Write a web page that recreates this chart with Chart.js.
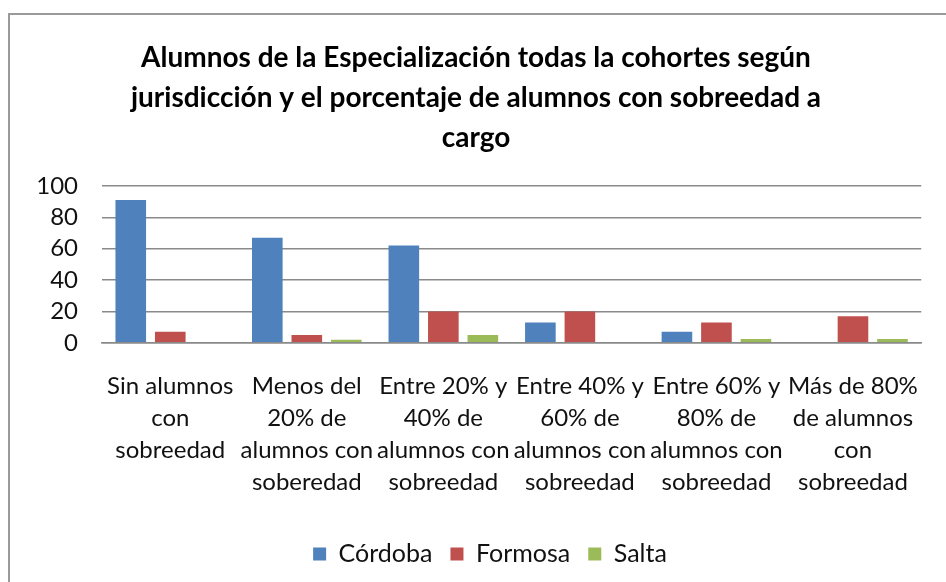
<!DOCTYPE html>
<html>
<head>
<meta charset="utf-8">
<script src="https://cdn.jsdelivr.net/npm/chart.js@4.4.0/dist/chart.umd.min.js"></script>
<style>
  html, body { margin: 0; padding: 0; background: #fff; }
  #wrap { position: relative; width: 946px; height: 582px; overflow: hidden; }
  #frame { position: absolute; left: 8px; top: 13px; width: 1000px; height: 700px;
           border-left: 2px solid #9a9a9a; border-top: 2px solid #9a9a9a; }
  canvas { position: absolute; left: 0; top: 0; }
</style>
</head>
<body>
<div id="wrap">
  <div id="frame"></div>
  <canvas id="c" width="946" height="582"></canvas>
</div>
<script>
const titleLines = [
  "Alumnos de la Especialización todas la cohortes según",
  "jurisdicción y el porcentaje de alumnos con sobreedad a",
  "cargo"
];
const categories = [
  ["Sin alumnos", "con", "sobreedad"],
  ["Menos del", "20% de", "alumnos con", "soberedad"],
  ["Entre 20% y", "40% de", "alumnos con", "sobreedad"],
  ["Entre 40% y", "60% de", "alumnos con", "sobreedad"],
  ["Entre 60% y", "80% de", "alumnos con", "sobreedad"],
  ["Más de 80%", "de alumnos", "con", "sobreedad"]
];
const seriesNames = ["Córdoba", "Formosa", "Salta"];
const cordoba = [91, 67, 62, 13, 7, 0];
const formosa = [7, 5, 20, 20, 13, 17];
const salta = [0, 2, 5, 0, 2.5, 2.5];
const yTicks = [0, 20, 40, 60, 80, 100];

const colors = ["#4F81BD", "#C0504D", "#9BBB59"];
const FONT = "Lato, Carlito, Calibri, sans-serif";

const legendShift = {
  id: "legendShift",
  afterLayout(chart) {
    if (chart.legend) {
      chart.legend.left += 14;
      chart.legend.right += 14;
    }
  }
};

new Chart(document.getElementById("c"), {
  type: "bar",
  data: {
    labels: categories,
    datasets: [cordoba, formosa, salta].map((d, i) => ({
      label: seriesNames[i],
      data: d,
      backgroundColor: colors[i],
      borderWidth: 0,
      categoryPercentage: 0.868,
      barPercentage: 0.775
    }))
  },
  plugins: [legendShift],
  options: {
    responsive: false,
    animation: false,
    devicePixelRatio: 1,
    layout: { padding: { left: 20, right: 14, top: 0, bottom: 5.6 } },
    plugins: {
      title: {
        display: true,
        text: titleLines,
        color: "#000",
        font: { family: FONT, size: 28, weight: "bold", lineHeight: 40 / 28 },
        padding: { top: 38, bottom: 28 }
      },
      legend: {
        position: "bottom",
        labels: {
          color: "#111",
          font: { family: FONT, size: 25 },
          boxWidth: 13,
          boxHeight: 13,
          padding: 18
        }
      },
      tooltip: { enabled: false }
    },
    scales: {
      x: {
        afterFit: (s) => { s.height = 180.6; },
        grid: { display: false, drawTicks: false },
        border: { display: true, color: "#8a8a8a", width: 1.5 },
        ticks: {
          autoSkip: false,
          maxRotation: 0,
          minRotation: 0,
          padding: 27,
          color: "#111",
          font: { family: FONT, size: 24, lineHeight: 32 / 24 }
        }
      },
      y: {
        min: 0,
        max: 100,
        afterBuildTicks: (s) => { s.ticks = yTicks.map(v => ({ value: v })); },
        afterFit: (s) => { s.width = 82; },
        grid: { color: "#8a8a8a", lineWidth: 1.5, drawTicks: false },
        border: { display: false },
        ticks: {
          autoSkip: false,
          padding: 24,
          color: "#111",
          font: { family: FONT, size: 24 }
        }
      }
    }
  }
});
</script>
</body>
</html>
